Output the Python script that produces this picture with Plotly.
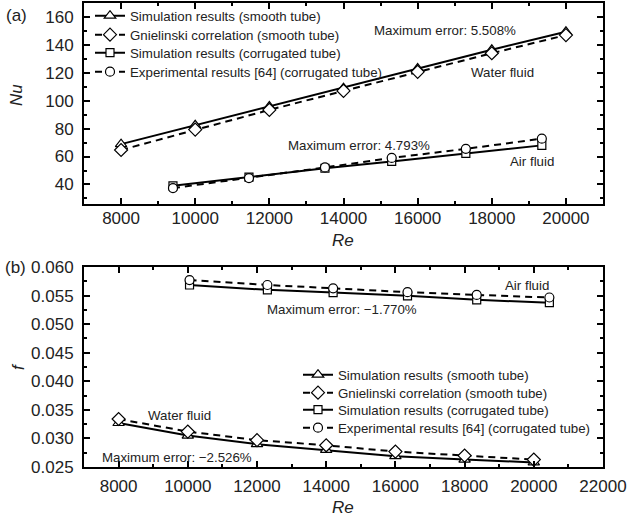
import plotly.graph_objects as go

# ---------------- data: panel (a) Nu ----------------
re_smooth_a = [8000, 10000, 12000, 14000, 16000, 18000, 20000]
nu_sim_smooth = [68.9, 82.4, 95.8, 109.0, 123.0, 136.5, 149.4]
nu_gnielinski = [64.7, 79.3, 93.4, 107.0, 120.7, 134.0, 147.0]
re_corr_a = [9400, 11450, 13500, 15300, 17300, 19350]
nu_sim_corr = [39.0, 45.2, 51.6, 56.5, 62.2, 68.0]
nu_exp_corr = [37.4, 44.6, 52.2, 59.0, 65.5, 72.8]

# ---------------- data: panel (b) f ----------------
re_smooth_b = [8000, 10000, 12000, 14000, 16000, 18000, 20000]
f_sim_smooth = [0.0327, 0.0305, 0.0290, 0.0280, 0.0269, 0.0263, 0.0258]
f_gnielinski = [0.0334, 0.0312, 0.0297, 0.0288, 0.0277, 0.0270, 0.0263]
re_corr_b = [10050, 12300, 14200, 16350, 18350, 20450]
f_sim_corr = [0.05685, 0.05600, 0.05552, 0.05496, 0.05426, 0.05375]
f_exp_corr = [0.05771, 0.05685, 0.05627, 0.05559, 0.05512, 0.05466]

names = ["Simulation results (smooth tube)",
         "Gnielinski correlation (smooth tube)",
         "Simulation results (corrugated tube)",
         "Experimental results [64] (corrugated tube)"]

W, H = 629, 522
FONT = "Liberation Sans, Arial, sans-serif"
TXT = "#222222"
TS = 13.3  # small text size

def px_x(p):
    return p / W

def px_y(p):
    return 1 - p / H

fig = go.Figure()

def add(x, y, name, symbol, size, dash, xa, ya, leg):
    fig.add_trace(go.Scatter(
        x=x, y=y, name=name, mode="lines+markers",
        line=dict(color="black", width=2, dash=dash),
        marker=dict(symbol=symbol, size=size, color="white",
                    line=dict(color="black", width=1.2)),
        xaxis=xa, yaxis=ya, legend=leg))

DASH = "7px,5px"
# panel (a)
add(re_smooth_a, nu_sim_smooth, names[0], "triangle-up", 10, "solid", "x", "y", "legend")
add(re_smooth_a, nu_gnielinski, names[1], "diamond", 10, DASH, "x", "y", "legend2")
add(re_corr_a, nu_sim_corr, names[2], "square", 8, "solid", "x", "y", "legend3")
add(re_corr_a, nu_exp_corr, names[3], "circle", 9, DASH, "x", "y", "legend4")
# panel (b)
add(re_smooth_b, f_sim_smooth, names[0], "triangle-up", 10, "solid", "x2", "y2", "legend5")
add(re_smooth_b, f_gnielinski, names[1], "diamond", 10, DASH, "x2", "y2", "legend6")
add(re_corr_b, f_sim_corr, names[2], "square", 8, "solid", "x2", "y2", "legend7")
add(re_corr_b, f_exp_corr, names[3], "circle", 9, DASH, "x2", "y2", "legend8")

axis_common = dict(
    showline=True, linecolor="black", linewidth=2, mirror="allticks",
    ticks="inside", ticklen=6, tickwidth=2, tickcolor="black",
    showgrid=False, zeroline=False, automargin=False,
    tickfont=dict(family=FONT, size=17, color=TXT),
)

def minor(dt, t0):
    return dict(dtick=dt, tick0=t0, ticks="inside", ticklen=3,
                tickwidth=2, tickcolor="black")

def legend_at(xpx, ypx):
    return dict(x=px_x(xpx), y=px_y(ypx), xanchor="left", yanchor="middle",
                bgcolor="rgba(0,0,0,0)", borderwidth=0,
                font=dict(family=FONT, size=TS, color=TXT),
                itemwidth=30, tracegroupgap=0)

rows_a = [16, 35, 53, 72]
rows_b = [375, 393, 410, 428]

fig.update_layout(
    width=W, height=H,
    margin=dict(l=0, r=0, t=0, b=0),
    paper_bgcolor="white", plot_bgcolor="white",
    showlegend=True,
    xaxis=dict(domain=[px_x(84), px_x(603)], range=[7000, 21000],
               tickvals=[8000, 10000, 12000, 14000, 16000, 18000, 20000],
               tickformat="d", minor=minor(1000, 7000),
               anchor="y", ticklabelstandoff=-2, **axis_common),
    yaxis=dict(domain=[px_y(204), px_y(3)], range=[26, 170],
               tickvals=[40, 60, 80, 100, 120, 140, 160],
               minor=minor(10, 0),
               anchor="x", ticklabelstandoff=5, **axis_common),
    xaxis2=dict(domain=[px_x(84), px_x(603)], range=[7000, 22000],
                tickvals=[8000, 10000, 12000, 14000, 16000, 18000, 20000, 22000],
                tickformat="d", minor=minor(1000, 7000),
                anchor="y2", ticklabelstandoff=3, **axis_common),
    yaxis2=dict(domain=[px_y(467), px_y(267)], range=[0.025, 0.060],
                tickvals=[0.025, 0.030, 0.035, 0.040, 0.045, 0.050, 0.055, 0.060],
                tickformat=".3f", minor=minor(0.0025, 0.025),
                anchor="x2", ticklabelstandoff=5, **axis_common),
    legend=legend_at(90, rows_a[0]),
    legend2=legend_at(90, rows_a[1]),
    legend3=legend_at(90, rows_a[2]),
    legend4=legend_at(90, rows_a[3]),
    legend5=legend_at(298, rows_b[0]),
    legend6=legend_at(298, rows_b[1]),
    legend7=legend_at(298, rows_b[2]),
    legend8=legend_at(298, rows_b[3]),
)

def note(text, x, y, xref, yref, size=TS, **kw):
    fig.add_annotation(text=text, x=x, y=y, xref=xref, yref=yref,
                       xanchor="center", yanchor="middle",
                       showarrow=False, font=dict(family=FONT, size=size, color=TXT), **kw)

# panel (a) notes
note("Maximum error: 5.508%", 16738, 150.0, "x", "y")
note("Water fluid", 18276, 120.0, "x", "y")
note("Maximum error: 4.793%", 14418, 68.0, "x", "y")
note("Air fluid", 19085, 56.5, "x", "y")
# panel (b) notes
note("Air fluid", 19795, 0.05683, "x2", "y2")
note("Maximum error: \u22121.770%", 14454, 0.05250, "x2", "y2")
note("Water fluid", 9760, 0.03405, "x2", "y2")
note("Maximum error: \u22122.526%", 9702, 0.02658, "x2", "y2")

# axis titles and panel labels
note("<i>Nu</i>", px_x(17), px_y(95), "paper", "paper", size=17, textangle=-90)
note("<i>Re</i>", px_x(343), px_y(240), "paper", "paper", size=17)
note("<i>f</i>", px_x(18), px_y(367), "paper", "paper", size=17, textangle=-90)
note("<i>Re</i>", px_x(343), px_y(507), "paper", "paper", size=17)
note("(a)", px_x(16), px_y(15), "paper", "paper", size=17)
note("(b)", px_x(15), px_y(267), "paper", "paper", size=17)

fig.write_html("out.html", config={"displayModeBar": False},
               post_script="document.body.style.margin='0px';document.body.style.overflow='hidden';")
